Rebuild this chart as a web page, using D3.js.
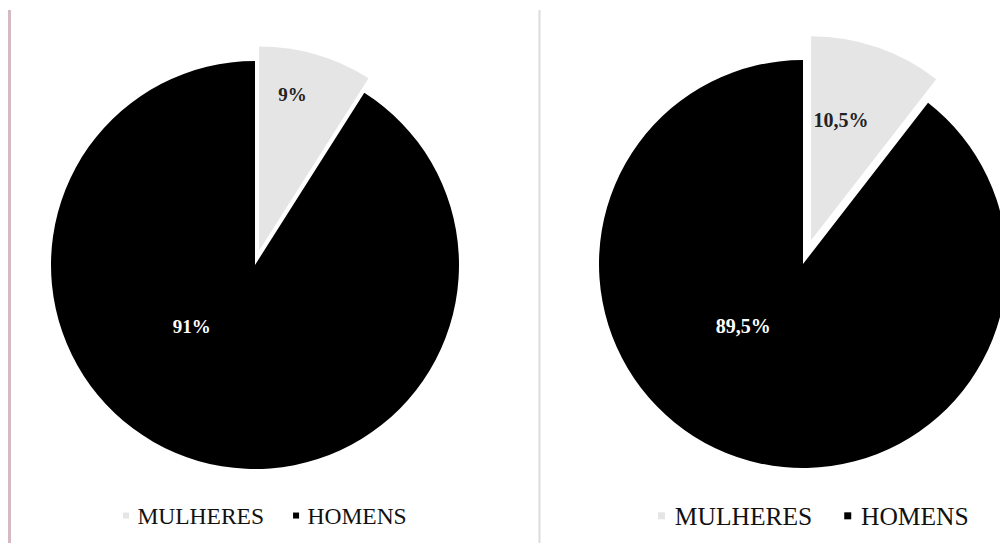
<!DOCTYPE html>
<html>
<head>
<meta charset="utf-8">
<script src="https://cdn.jsdelivr.net/npm/d3@7"></script>
<style>
  html, body { margin: 0; padding: 0; background: #fff; }
  svg { display: block; }
</style>
</head>
<body>
<div id="chart"></div>
<script>
// data
const categories = ["MULHERES", "HOMENS"];
const valuesLeft = [9, 91];
const valuesRight = [10.5, 89.5];
const colors = ["#e6e5e6", "#000000"];

const width = 1000, height = 543;

const PT = d3.formatLocale({ decimal: ",", thousands: ".", grouping: [3], currency: ["R$", ""] });
const fmt = v => PT.format("~")(v) + "%";

const svg = d3.select("#chart")
  .append("svg")
  .attr("width", width)
  .attr("height", height);

// side rules
svg.append("line")
  .attr("x1", 9.5).attr("x2", 9.5)
  .attr("y1", 10).attr("y2", height)
  .attr("stroke", "#d5b9c5").attr("stroke-width", 3);

svg.append("line")
  .attr("x1", 539.5).attr("x2", 539.5)
  .attr("y1", 10).attr("y2", height)
  .attr("stroke", "#dcdcdc").attr("stroke-width", 2);

// layout for each panel
const panels = [
  { values: valuesLeft, cx: 255, cy: 265, r: 204, explode: 15, fontSize: 19,
    smallLabel: { angle: 12, dist: 160 }, bigLabel: { angle: 226, dist: 88 },
    legend: { x: 123, y: 524, font: 23.5, gap: 29, mark: 6 } },
  { values: valuesRight, cx: 803, cy: 264, r: 204, explode: 25, fontSize: 20,
    smallLabel: { angle: 14, dist: 124 }, bigLabel: { angle: 224, dist: 86 },
    legend: { x: 658, y: 525, font: 25.5, gap: 32, mark: 7 } }
];

const pie = d3.pie().sort(null).value(d => d);
const rad = a => a * Math.PI / 180;

panels.forEach(p => {
  const arcGen = d3.arc().innerRadius(0).outerRadius(p.r);
  const arcs = pie(p.values);

  const g = svg.append("g")
    .attr("transform", "translate(" + p.cx + "," + p.cy + ")");

  g.selectAll("path")
    .data(arcs)
    .enter()
    .append("path")
    .attr("d", arcGen)
    .attr("fill", (d, i) => colors[i])
    .attr("transform", (d, i) => {
      if (i !== 0) return null;
      const mid = (d.startAngle + d.endAngle) / 2;
      return "translate(" + (Math.sin(mid) * p.explode) + "," + (-Math.cos(mid) * p.explode) + ")";
    });

  // labels
  g.selectAll("text.lbl")
    .data(arcs)
    .enter()
    .append("text")
    .attr("class", "lbl")
    .attr("text-anchor", "middle")
    .attr("dominant-baseline", "central")
    .attr("font-family", "'Liberation Serif', 'Times New Roman', serif")
    .attr("font-weight", "bold")
    .attr("font-size", p.fontSize)
    .attr("fill", (d, i) => i === 0 ? "#222" : "#fff")
    .attr("x", (d, i) => {
      const mid = (d.startAngle + d.endAngle) / 2;
      const off = i === 0 ? Math.sin(mid) * p.explode : 0;
      const L = i === 0 ? p.smallLabel : p.bigLabel;
      return off + Math.sin(rad(L.angle)) * L.dist;
    })
    .attr("y", (d, i) => {
      const mid = (d.startAngle + d.endAngle) / 2;
      const off = i === 0 ? -Math.cos(mid) * p.explode : 0;
      const L = i === 0 ? p.smallLabel : p.bigLabel;
      return off - Math.cos(rad(L.angle)) * L.dist;
    })
    .text(d => fmt(d.data));

  // legend
  const lg = svg.append("g")
    .attr("transform", "translate(" + p.legend.x + "," + p.legend.y + ")");
  let x = 0;
  categories.forEach((c, i) => {
    lg.append("rect")
      .attr("x", x)
      .attr("y", -p.legend.font * 0.36 - p.legend.mark / 2)
      .attr("width", p.legend.mark)
      .attr("height", p.legend.mark)
      .attr("fill", colors[i]);
    const t = lg.append("text")
      .attr("x", x + p.legend.mark + p.legend.mark * 1.4)
      .attr("y", 0)
      .attr("font-family", "'Liberation Serif', 'Times New Roman', serif")
      .attr("font-size", p.legend.font)
      .attr("fill", "#111")
      .text(c);
    const w = t.node().getComputedTextLength();
    x += p.legend.mark * 2.4 + w + p.legend.gap;
  });
});
</script>
</body>
</html>
